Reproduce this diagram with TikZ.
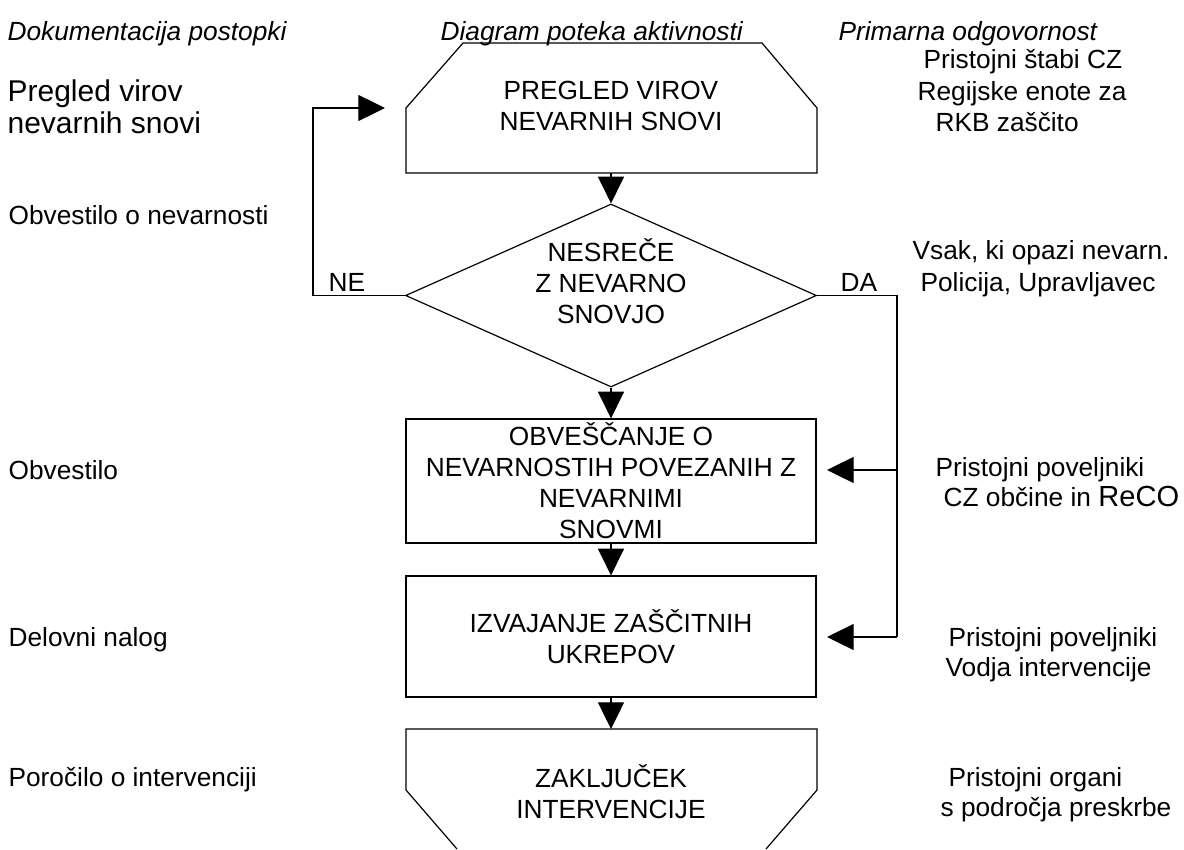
\documentclass[tikz,border=0pt]{standalone}
\usepackage{fontspec}
\setmainfont{Liberation Sans}
\usetikzlibrary{arrows.meta,shapes.geometric}
\begin{document}
\begin{tikzpicture}[x=0.75pt,y=-0.75pt,line width=0.9pt,
  txt/.style={inner sep=0pt,font=\fontsize{19.7}{23.25}\selectfont},
  hdr/.style={inner sep=0pt,font=\fontsize{19.7}{23.25}\selectfont\itshape,anchor=base west},
  lft/.style={txt,anchor=base west},
  bigtxt/.style={inner sep=0pt,font=\fontsize{22.5}{24}\selectfont,anchor=base west},
  flow/.style={-{Triangle[length=20pt,width=19.5pt]}},
  box/.style={draw,rectangle,minimum width=307.5pt,inner sep=0pt,align=center,txt}]
\useasboundingbox (0,0) rectangle (1184,849);
% headers
\node[hdr] (h1) at (7,41) {Dokumentacija postopki};
\node[hdr] (h2) at (440,41) {Diagram poteka aktivnosti};
\node[hdr] (h3) at (838,41) {Primarna odgovornost};
% left column
\node[bigtxt] (l1) at (7,101) {Pregled virov};
\node[bigtxt] (l2) at (7,133) {nevarnih snovi};
\node[lft] (l3) at (8,224) {Obvestilo o nevarnosti};
\node[lft] (l4) at (8,479) {Obvestilo};
\node[lft] (l5) at (8,646) {Delovni nalog};
\node[lft] (l6) at (8,786) {Poročilo o intervenciji};
% right column
\node[lft] (r1) at (923,69) {Pristojni štabi CZ};
\node[lft] (r2) at (917,100) {Regijske enote za};
\node[lft] (r3) at (935,131) {RKB zaščito};
\node[lft] (r4) at (912,259) {Vsak, ki opazi nevarn.};
\node[lft] (r5) at (920,291) {Policija, Upravljavec};
\node[lft] (r6) at (935,476) {Pristojni poveljniki};
\node[lft] (r7) at (943,506) {CZ občine in {\fontsize{21.8}{24}\selectfont ReCO}};
\node[lft] (r8) at (948,646) {Pristojni poveljniki};
\node[lft] (r9) at (945,676) {Vodja intervencije};
\node[lft] (r10) at (948,786) {Pristojni organi};
\node[lft] (r11) at (940,816) {s področja preskrbe};
% top shape
\coordinate (tTL) at (463,43);
\coordinate (tTR) at (762,43);
\coordinate (tR) at (817,108);
\coordinate (tBR) at (817,173);
\coordinate (tBL) at (406,173);
\coordinate (tL) at (406,108);
\draw (tTL) -- (tTR) -- (tR) -- (tBR) -- (tBL) -- (tL) -- cycle;
\node[txt,align=center] (toptext) at (611,106) {PREGLED VIROV\\NEVARNIH SNOVI};
\coordinate (topS) at (611,173);
% decision
\node[draw,diamond,minimum width=308.25pt,minimum height=137.25pt,inner sep=0pt] (dia) at (611,295.5) {};
\node[txt,align=center] (diatext) at (611,281) {NESREČE\\Z NEVARNO\\SNOVJO};
% boxes
\node[box,minimum height=93pt] (b2) at (611,481) {OBVEŠČANJE O\\NEVARNOSTIH POVEZANIH Z\\NEVARNIMI\\SNOVMI};
\node[box,minimum height=90.75pt] (b3) at (611,636.5) {IZVAJANJE ZAŠČITNIH\\UKREPOV};
% bottom shape
\coordinate (bBL) at (457,849);
\coordinate (bL) at (406,790);
\coordinate (bTL) at (406,729);
\coordinate (bTR) at (817,729);
\coordinate (bR) at (817,790);
\coordinate (bBR) at (766,849);
\draw (bBL) -- (bL) -- (bTL) -- (bTR) -- (bR) -- (bBR);
\node[txt,align=center] (bottext) at (611,792) {ZAKLJUČEK\\INTERVENCIJE};
\coordinate (botN) at (611,729);
% connectors
\draw[flow] (topS) -- (dia.north);
\draw[flow] (dia.south) -- (b2.north);
\draw[flow] (b2.south) -- (b3.north);
\draw[flow] (b3.south) -- (botN);
\coordinate (neC) at (313,295.5);
\coordinate (topIn) at (385,108);
\draw[flow] (dia.west) -- (neC) |- (topIn);
\coordinate (daC) at (897,295.5);
\coordinate (j2) at (897,470);
\coordinate (a2) at (827,470);
\coordinate (j3) at (897,637);
\coordinate (a3) at (827,637);
\draw (dia.east) -- (daC) -- (j3);
\draw[flow] (j2) -- (a2);
\draw[flow] (j3) -- (a3);
\node[lft] (ne) at (328,291) {NE};
\node[lft] (da) at (840,291) {DA};
\end{tikzpicture}
\end{document}
